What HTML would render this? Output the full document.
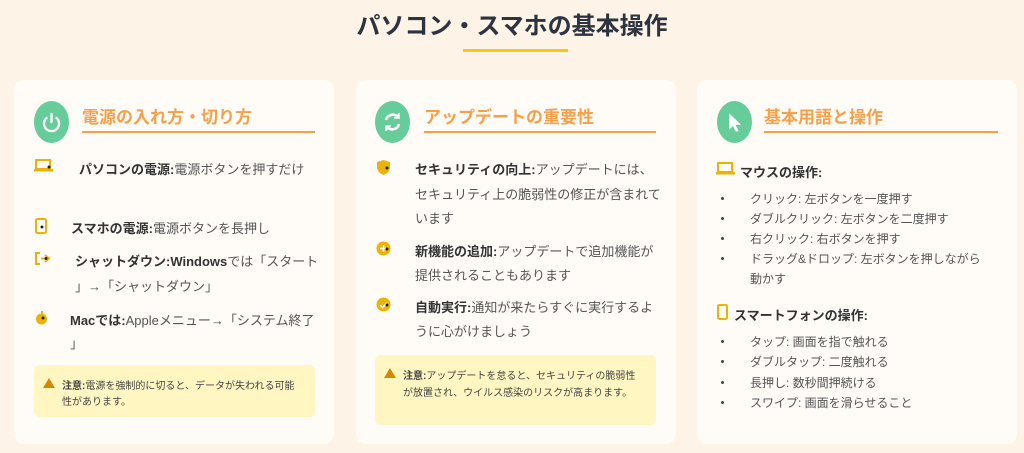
<!DOCTYPE html>
<html><head><meta charset="utf-8"><style>
*{margin:0;padding:0;box-sizing:border-box}
body{width:1024px;height:453px;background:#fdf3e6;font-family:"Liberation Sans","Noto Sans CJK JP",sans-serif;position:relative;overflow:hidden;color:#444}
.a{position:absolute;white-space:nowrap}
.card{position:absolute;top:80px;width:320px;height:364px;background:#fffcf8;border-radius:10px}
.ic{position:absolute;width:35px;height:42px;border-radius:50%;background:#66cc99;top:101px}
.tt{position:absolute;top:103px;font-size:17px;font-weight:bold;color:#f7a04a}
.ul{position:absolute;top:131px;height:2px;background:#f7a04a}
.t{font-size:13px;color:#555}
.t b{color:#333}
.s{font-size:12px;color:#555}
.warn{position:absolute;background:#fff6c2;border-radius:6px}
.w{font-size:10px;color:#444}
.tri{position:absolute;width:0;height:0;border-left:6px solid transparent;border-right:6px solid transparent;border-bottom:10px solid #d08a00}
.dot{position:absolute;width:3px;height:3px;border-radius:50%;background:#444}
</style></head><body>
<div class="a" style="left:0;width:1024px;text-align:center;top:6px;font-size:24px;font-weight:bold;color:#2c3440">パソコン・スマホの基本操作</div>
<div class="a" style="left:463px;top:49px;width:105px;height:3px;background:#f5c518"></div>

<div class="card" style="left:14px"></div>
<div class="card" style="left:356px"></div>
<div class="card" style="left:697px"></div>

<!-- card1 -->
<div class="ic" style="left:34px"><svg width="35" height="42" viewBox="0 0 35 42"><path d="M12.5 17 A7.5 7.5 0 1 0 22.5 17" fill="none" stroke="#fff" stroke-width="2.4" stroke-linecap="round"/><line x1="17.5" y1="13" x2="17.5" y2="21" stroke="#fff" stroke-width="2.4" stroke-linecap="round"/></svg></div>
<div class="tt" style="left:82px">電源の入れ方・切り方</div>
<div class="ul" style="left:82px;width:233px"></div>
<svg class="a" style="left:34px;top:159px" width="20" height="14"><rect x="2" y="1" width="14" height="9" fill="none" stroke="#eab308" stroke-width="2"/><rect x="0" y="10" width="19" height="2.5" fill="#eab308"/><circle cx="15" cy="8" r="1.5" fill="#222"/></svg>
<div class="a t" style="left:79px;top:159px"><b>パソコンの電源:</b>電源ボタンを押すだけ</div>
<svg class="a" style="left:35px;top:218px" width="14" height="17"><rect x="1" y="1" width="10" height="14" rx="1.5" fill="none" stroke="#eab308" stroke-width="2"/><circle cx="7" cy="9" r="1.5" fill="#222"/></svg>
<div class="a t" style="left:71px;top:218px"><b>スマホの電源:</b>電源ボタンを長押し</div>
<svg class="a" style="left:34px;top:252px" width="18" height="14"><path d="M6 1H2v11h4" fill="none" stroke="#eab308" stroke-width="2"/><path d="M7 6.5h6M11 3l4 3.5-4 3.5" fill="none" stroke="#eab308" stroke-width="2"/><circle cx="12" cy="6.5" r="1.5" fill="#222"/></svg>
<div class="a t" style="left:75px;top:251px"><b>シャットダウン:Windows</b>では「スタート</div>
<div class="a t" style="left:75px;top:276px">」→「シャットダウン」</div>
<svg class="a" style="left:35px;top:310px" width="14" height="15"><circle cx="6.5" cy="9" r="5.5" fill="#eab308"/><rect x="6" y="1" width="2" height="3" fill="#eab308"/><circle cx="8" cy="8" r="1.5" fill="#222"/></svg>
<div class="a t" style="left:70px;top:310px"><b>Macでは:</b>Appleメニュー→「システム終了</div>
<div class="a t" style="left:70px;top:333px">」</div>
<div class="warn" style="left:34px;top:365px;width:281px;height:52px"></div>
<div class="tri" style="left:43px;top:378px"></div>
<div class="a w" style="left:62px;top:377px"><b>注意:</b>電源を強制的に切ると、データが失われる可能</div>
<div class="a w" style="left:62px;top:393px">性があります。</div>

<!-- card2 -->
<div class="ic" style="left:375px"><svg width="35" height="42" viewBox="0 0 35 42"><path d="M11 19 A7 7 0 0 1 23 16" fill="none" stroke="#fff" stroke-width="2.6"/><path d="M24 12v5h-5" fill="#fff" stroke="#fff" stroke-width="1.5"/><path d="M24 23 A7 7 0 0 1 12 26" fill="none" stroke="#fff" stroke-width="2.6"/><path d="M11 30v-5h5" fill="#fff" stroke="#fff" stroke-width="1.5"/></svg></div>
<div class="tt" style="left:424px">アップデートの重要性</div>
<div class="ul" style="left:424px;width:232px"></div>
<svg class="a" style="left:376px;top:160px" width="16" height="16"><path d="M1 2L7.5 0 14 2v5c0 4-3 6.5-6.5 8C4 13.5 1 11 1 7z" fill="#eab308"/><circle cx="11" cy="8" r="1.5" fill="#222"/></svg>
<div class="a t" style="left:415px;top:159px"><b>セキュリティの向上:</b>アップデートには、</div>
<div class="a t" style="left:415px;top:184px">セキュリティ上の脆弱性の修正が含まれて</div>
<div class="a t" style="left:415px;top:208px">います</div>
<svg class="a" style="left:376px;top:241px" width="16" height="16"><circle cx="7.5" cy="7.5" r="7" fill="#eab308"/><path d="M4 7.5h7M7.5 4v7" stroke="#fff" stroke-width="1.6"/><circle cx="11" cy="8" r="1.5" fill="#222"/></svg>
<div class="a t" style="left:415px;top:241px"><b>新機能の追加:</b>アップデートで追加機能が</div>
<div class="a t" style="left:415px;top:265px">提供されることもあります</div>
<svg class="a" style="left:376px;top:297px" width="16" height="16"><circle cx="7.5" cy="7.5" r="7" fill="#eab308"/><path d="M4 8l2.5 2.5L11 6" fill="none" stroke="#fff" stroke-width="1.6"/><circle cx="11" cy="8" r="1.5" fill="#222"/></svg>
<div class="a t" style="left:415px;top:297px"><b>自動実行:</b>通知が来たらすぐに実行するよ</div>
<div class="a t" style="left:415px;top:321px">うに心がけましょう</div>
<div class="warn" style="left:375px;top:355px;width:281px;height:70px"></div>
<div class="tri" style="left:384px;top:368px"></div>
<div class="a w" style="left:403px;top:367px"><b>注意:</b>アップデートを怠ると、セキュリティの脆弱性</div>
<div class="a w" style="left:403px;top:384px">が放置され、ウイルス感染のリスクが高まります。</div>

<!-- card3 -->
<div class="ic" style="left:717px"><svg width="35" height="42" viewBox="0 0 35 42"><path d="M12 12v17l4-4 3 6 2.5-1.2-3-6h5.5z" fill="#fff"/></svg></div>
<div class="tt" style="left:764px">基本用語と操作</div>
<div class="ul" style="left:764px;width:234px"></div>
<svg class="a" style="left:716px;top:162px" width="20" height="14"><rect x="2" y="1" width="14" height="9" fill="none" stroke="#eab308" stroke-width="2"/><rect x="0" y="10" width="19" height="2.5" fill="#eab308"/></svg>
<div class="a t" style="left:740px;top:162px;font-weight:bold;color:#333">マウスの操作:</div>
<div class="dot" style="left:721px;top:197px"></div><div class="a s" style="left:750px;top:190px">クリック: 左ボタンを一度押す</div>
<div class="dot" style="left:721px;top:217px"></div><div class="a s" style="left:750px;top:210px">ダブルクリック: 左ボタンを二度押す</div>
<div class="dot" style="left:721px;top:237px"></div><div class="a s" style="left:750px;top:230px">右クリック: 右ボタンを押す</div>
<div class="dot" style="left:721px;top:257px"></div><div class="a s" style="left:750px;top:250px">ドラッグ&amp;ドロップ: 左ボタンを押しながら</div>
<div class="a s" style="left:750px;top:270px">動かす</div>
<svg class="a" style="left:717px;top:304px" width="12" height="17"><rect x="1" y="1" width="9" height="14" rx="1.5" fill="none" stroke="#eab308" stroke-width="2"/></svg>
<div class="a t" style="left:734px;top:305px;font-weight:bold;color:#333">スマートフォンの操作:</div>
<div class="dot" style="left:721px;top:340px"></div><div class="a s" style="left:750px;top:333px">タップ: 画面を指で触れる</div>
<div class="dot" style="left:721px;top:360px"></div><div class="a s" style="left:750px;top:353px">ダブルタップ: 二度触れる</div>
<div class="dot" style="left:721px;top:381px"></div><div class="a s" style="left:750px;top:374px">長押し: 数秒間押続ける</div>
<div class="dot" style="left:721px;top:401px"></div><div class="a s" style="left:750px;top:394px">スワイプ: 画面を滑らせること</div>
</body></html>
